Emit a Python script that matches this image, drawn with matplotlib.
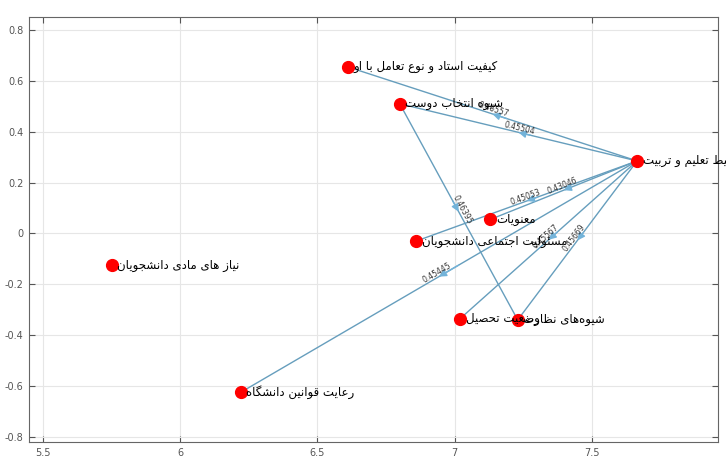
import numpy as np
import matplotlib.pyplot as plt

# node names and positions
names = ["کیفیت استاد و نوع تعامل با او", "شیوه انتخاب دوست", "محیط تعلیم و تربیت",
         "معنویات", "مسئولیت اجتماعی دانشجویان", "نیاز های مادی دانشجویان",
         "رعایت قوانین دانشگاه", "وضعیت تحصیل", "شیوه‌های نظارت"]
node_x = [6.61, 6.80, 7.665, 7.13, 6.86, 5.75, 6.22, 7.02, 7.23]
node_y = [0.655, 0.51, 0.285, 0.055, -0.03, -0.125, -0.625, -0.335, -0.34]

# edges (source, target, weight label)
src = [2, 2, 2, 2, 2, 2, 2, 1]
dst = [0, 1, 3, 4, 7, 8, 6, 8]
weights = ["0.46557", "0.45504", "0.43046", "0.45053", "0.45567", "0.45669", "0.45445", "0.46395"]

xticks = [5.5, 6, 6.5, 7, 7.5]
xticklabels = ["5.5", "6", "6.5", "7", "7.5"]
yticks = [-0.8, -0.6, -0.4, -0.2, 0, 0.2, 0.4, 0.6, 0.8]
yticklabels = ["-0.8", "-0.6", "-0.4", "-0.2", "0", "0.2", "0.4", "0.6", "0.8"]

# minimal arabic/persian shaping (presentation forms) since matplotlib has no shaping
forms = {
    'ا': (0xFE8D, 0xFE8E), 'آ': (0xFE81, 0xFE82), 'د': (0xFEA9, 0xFEAA), 'ذ': (0xFEAB, 0xFEAC),
    'ر': (0xFEAD, 0xFEAE), 'ز': (0xFEAF, 0xFEB0), 'ژ': (0xFB8A, 0xFB8B), 'و': (0xFEED, 0xFEEE),
    'ب': (0xFE8F, 0xFE90, 0xFE91, 0xFE92), 'پ': (0xFB56, 0xFB57, 0xFB58, 0xFB59),
    'ت': (0xFE95, 0xFE96, 0xFE97, 0xFE98), 'ث': (0xFE99, 0xFE9A, 0xFE9B, 0xFE9C),
    'ج': (0xFE9D, 0xFE9E, 0xFE9F, 0xFEA0), 'چ': (0xFB7A, 0xFB7B, 0xFB7C, 0xFB7D),
    'ح': (0xFEA1, 0xFEA2, 0xFEA3, 0xFEA4), 'خ': (0xFEA5, 0xFEA6, 0xFEA7, 0xFEA8),
    'س': (0xFEB1, 0xFEB2, 0xFEB3, 0xFEB4), 'ش': (0xFEB5, 0xFEB6, 0xFEB7, 0xFEB8),
    'ص': (0xFEB9, 0xFEBA, 0xFEBB, 0xFEBC), 'ض': (0xFEBD, 0xFEBE, 0xFEBF, 0xFEC0),
    'ط': (0xFEC1, 0xFEC2, 0xFEC3, 0xFEC4), 'ظ': (0xFEC5, 0xFEC6, 0xFEC7, 0xFEC8),
    'ع': (0xFEC9, 0xFECA, 0xFECB, 0xFECC), 'غ': (0xFECD, 0xFECE, 0xFECF, 0xFED0),
    'ف': (0xFED1, 0xFED2, 0xFED3, 0xFED4), 'ق': (0xFED5, 0xFED6, 0xFED7, 0xFED8),
    'ک': (0xFB8E, 0xFB8F, 0xFB90, 0xFB91), 'گ': (0xFB92, 0xFB93, 0xFB94, 0xFB95),
    'ل': (0xFEDD, 0xFEDE, 0xFEDF, 0xFEE0), 'م': (0xFEE1, 0xFEE2, 0xFEE3, 0xFEE4),
    'ن': (0xFEE5, 0xFEE6, 0xFEE7, 0xFEE8), 'ه': (0xFEE9, 0xFEEA, 0xFEEB, 0xFEEC),
    'ی': (0xFBFC, 0xFBFD, 0xFBFE, 0xFBFF), 'ئ': (0xFE89, 0xFE8A, 0xFE8B, 0xFE8C),
}

def shape(s):
    out = []
    for i, c in enumerate(s):
        if c not in forms:
            if c != '\u200c':
                out.append(c)
            continue
        prev = s[i - 1] if i > 0 else ''
        nxt = s[i + 1] if i + 1 < len(s) else ''
        f = forms[c]
        join_prev = prev in forms and len(forms[prev]) == 4
        join_next = len(f) == 4 and nxt in forms
        if join_prev and join_next:
            out.append(chr(f[3]))
        elif join_prev:
            out.append(chr(f[1]))
        elif join_next:
            out.append(chr(f[2]))
        else:
            out.append(chr(f[0]))
    return ''.join(reversed(out))

fig = plt.figure(figsize=(7.26, 4.59), dpi=100)
ax = fig.add_axes([0.040, 0.037, 0.949, 0.926])
ax.set_xlim(5.449, 7.96)
ax.set_ylim(-0.82, 0.851)

edge_col = (0.40, 0.62, 0.74)
for s, d, w in zip(src, dst, weights):
    x0, y0, x1, y1 = node_x[s], node_y[s], node_x[d], node_y[d]
    ax.plot([x0, x1], [y0, y1], color=edge_col, lw=1.0, zorder=2)
    mx, my = (x0 + x1) / 2, (y0 + y1) / 2
    ax.annotate("", xy=(mx, my), xytext=(x0 + 0.45 * (x1 - x0), y0 + 0.45 * (y1 - y0)),
                arrowprops=dict(arrowstyle='-|>', color=(0.45, 0.70, 0.85), lw=1.0,
                                mutation_scale=11, shrinkA=0, shrinkB=0), zorder=3)
    lx0, ly0, lx1, ly1 = (x0, y0, x1, y1) if x0 < x1 else (x1, y1, x0, y0)
    ang = np.degrees(np.arctan2(ly1 - ly0, lx1 - lx0))
    ax.text(mx, my, w, fontsize=5.5, color='#333333', rotation=ang, transform_rotates_text=True,
            rotation_mode='anchor', ha='center', va='bottom', zorder=4)

ax.plot(node_x, node_y, 'o', color='red', markersize=8.5, zorder=5)
for n, x, y in zip(names, node_x, node_y):
    ax.annotate(shape(n), (x, y), xytext=(4, 0), textcoords='offset points', fontsize=8.5,
                ha='left', va='center', color='black', annotation_clip=False, zorder=6)

ax.set_xticks(xticks)
ax.set_xticklabels(xticklabels)
ax.set_yticks(yticks)
ax.set_yticklabels(yticklabels)
ax.tick_params(direction='in', top=True, right=True, labelsize=7, labelcolor='#555555',
               color='#555555', length=4, pad=4)
ax.grid(True, color='#e6e6e6', lw=0.8)
ax.set_axisbelow(True)
for sp in ax.spines.values():
    sp.set_color('#666666')

fig.savefig("out.png", dpi=100)
